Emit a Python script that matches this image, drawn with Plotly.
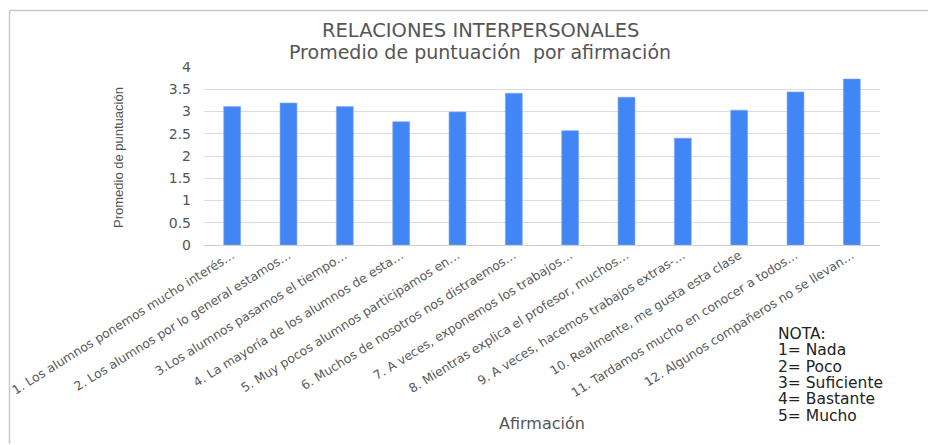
import plotly.graph_objects as go

categories = [
    "1. Los alumnos ponemos mucho interés…",
    "2. Los alumnos por lo general estamos…",
    "3.Los alumnos pasamos el tiempo…",
    "4. La mayoría de los alumnos de esta…",
    "5. Muy pocos alumnos participamos en…",
    "6. Muchos de nosotros nos distraemos…",
    "7. A veces, exponemos los trabajos…",
    "8. Mientras explica el profesor, muchos…",
    "9. A veces, hacemos trabajos extras-…",
    "10. Realmente, me gusta esta clase",
    "11. Tardamos mucho en conocer a todos…",
    "12. Algunos compañeros no se llevan…",
]
values = [3.11, 3.19, 3.11, 2.77, 2.99, 3.41, 2.57, 3.32, 2.40, 3.03, 3.44, 3.73]
y_ticks = [0, 0.5, 1, 1.5, 2, 2.5, 3, 3.5, 4]
y_ticktext = ["0", "0.5", "1", "1.5", "2", "2.5", "3", "3.5", "4"]
title_lines = ["RELACIONES INTERPERSONALES", "Promedio de puntuación  por afirmación"]
nota_lines = ["NOTA:", "1= Nada", "2= Poco", "3= Suficiente", "4= Bastante", "5= Mucho"]

ARIAL = "Liberation Sans, Arial, sans-serif"
WIDE = "DejaVu Sans, Verdana, sans-serif"

# page body has an 8px margin; figure is sized to fit the window
W, H = 928, 437
L, R, T, B = 196, 56, 59, 200
PW, PH = W - L - R, H - T - B


def px(xr):
    return (xr - 8 - L) / PW


def py(yr):
    return (H - B - (yr - 8)) / PH


fig = go.Figure(go.Bar(
    x=categories, y=values,
    marker=dict(color="#4285F4", line=dict(color="#7aa7f7", width=0.6)),
    width=0.30,
))

fig.update_layout(
    width=W, height=H,
    margin=dict(l=L, r=R, t=T, b=B, autoexpand=False),
    paper_bgcolor="white", plot_bgcolor="white",
    font=dict(family=WIDE, color="#555555"),
    showlegend=False,
)
fig.update_xaxes(
    tickangle=-32, tickfont=dict(size=12.4, color="#5a5a5a", family=WIDE),
    showgrid=False, showline=False, zeroline=False, ticks="", automargin=False,
)
fig.update_yaxes(
    range=[0, 4], tickvals=y_ticks, ticktext=y_ticktext,
    tickfont=dict(size=14, color="#555555", family=WIDE),
    showgrid=True, gridcolor="#dcdcdc", gridwidth=1,
    zeroline=True, zerolinecolor="#cfcfcf", zerolinewidth=1,
    showline=False, ticks="", ticklabelstandoff=12, automargin=False,
)

annotations = [
    dict(text=title_lines[0], xref="paper", yref="paper", x=px(480), y=py(31),
         xanchor="center", yanchor="middle", showarrow=False,
         font=dict(size=19.5, color="#555555", family=WIDE)),
    dict(text=title_lines[1], xref="paper", yref="paper", x=px(480), y=py(52),
         xanchor="center", yanchor="middle", showarrow=False,
         font=dict(size=19, color="#555555", family=WIDE)),
    dict(text="Promedio de puntuación", xref="paper", yref="paper", x=px(118), y=py(157),
         xanchor="center", yanchor="middle", showarrow=False, textangle=-90,
         font=dict(size=13, color="#555555", family=ARIAL)),
    dict(text="Afirmación", xref="paper", yref="paper", x=px(542), y=py(423),
         xanchor="center", yanchor="middle", showarrow=False,
         font=dict(size=16, color="#555555", family=WIDE)),
]
for i, line in enumerate(nota_lines):
    annotations.append(dict(
        text=line, xref="paper", yref="paper",
        x=px(776), y=py(334 + 16.3 * i),
        xanchor="left", yanchor="middle", showarrow=False,
        font=dict(size=15.5, color="#222222", family=WIDE),
    ))

# light frame edges (top and left) drawn as head-less annotation arrows
frame = dict(color="#c8c8c8", width=1.5)
annotations.append(dict(text="", xref="paper", yref="paper", x=px(9.5), y=py(10.5),
                        showarrow=True, arrowhead=0, arrowwidth=frame["width"],
                        arrowcolor=frame["color"], ax=940, ay=0, standoff=0, startstandoff=0))
annotations.append(dict(text="", xref="paper", yref="paper", x=px(9.5), y=py(10.5),
                        showarrow=True, arrowhead=0, arrowwidth=frame["width"],
                        arrowcolor=frame["color"], ax=0, ay=460, standoff=0, startstandoff=0))
fig.update_layout(annotations=annotations)

fig.write_html("out.html")
